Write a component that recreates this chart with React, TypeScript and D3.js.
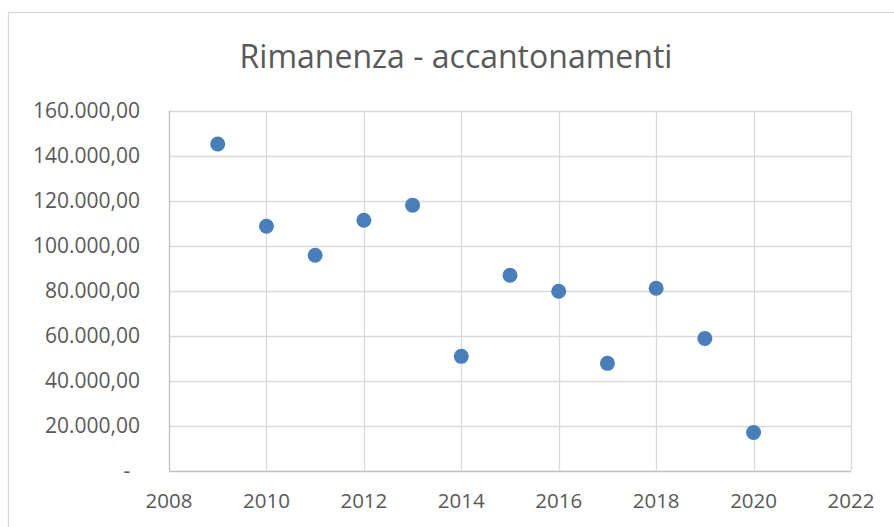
import { useEffect, useRef } from "react";
import * as d3 from "d3";

const WIDTH = 894;
const HEIGHT = 527;

const title = "Rimanenza - accantonamenti";
const years = [2009, 2010, 2011, 2012, 2013, 2014, 2015, 2016, 2017, 2018, 2019, 2020];
const values = [145300, 108700, 95800, 111400, 118100, 50800, 86900, 79800, 47700, 81100, 58800, 16900];
const xTicks = [2008, 2010, 2012, 2014, 2016, 2018, 2020, 2022];
const yTicks = [0, 20000, 40000, 60000, 80000, 100000, 120000, 140000, 160000];

const FONT = "'Open Sans', 'Noto Sans', sans-serif";
const TEXT = "#595959";
const GRID = "#d9d9d9";
const DOT = "#4a7ebb";

// Italian number format: 160.000,00, zero shown as "-"
function fmt(v: number) {
  if (v === 0) return "-";
  const int = Math.round(v)
    .toString()
    .replace(/\B(?=(\d{3})+(?!\d))/g, ".");
  return `${int},00`;
}

export default function App() {
  const ref = useRef<SVGSVGElement | null>(null);

  useEffect(() => {
    if (!ref.current) return;
    const svg = d3.select(ref.current);
    svg.selectAll("*").remove();

    const margin = { left: 169, right: WIDTH - 851, top: 111, bottom: HEIGHT - 470.5 };
    const x = d3.scaleLinear().domain([2008, 2022]).range([margin.left, WIDTH - margin.right]);
    const y = d3.scaleLinear().domain([0, 160000]).range([HEIGHT - margin.bottom, margin.top]);

    svg.append("rect").attr("width", WIDTH).attr("height", HEIGHT).attr("fill", "#fff");

    // chart border (runs off the right/bottom edge)
    svg
      .append("rect")
      .attr("x", 8.5)
      .attr("y", 12.5)
      .attr("width", WIDTH + 20)
      .attr("height", HEIGHT + 20)
      .attr("fill", "none")
      .attr("stroke", GRID)
      .attr("stroke-width", 1.3);

    svg
      .append("text")
      .attr("x", 456)
      .attr("y", 68)
      .attr("text-anchor", "middle")
      .attr("font-family", FONT)
      .attr("font-size", 32)
      .attr("fill", TEXT)
      .text(title);

    const grid = svg.append("g").attr("stroke", GRID).attr("stroke-width", 1.3);
    grid
      .selectAll("line.h")
      .data(yTicks)
      .join("line")
      .attr("x1", x(2008))
      .attr("x2", x(2022))
      .attr("y1", (d) => Math.round(y(d)) + 0.5)
      .attr("y2", (d) => Math.round(y(d)) + 0.5)
      .attr("stroke", (d) => (d === 0 ? "#bfbfbf" : GRID));
    grid
      .selectAll("line.v")
      .data(xTicks)
      .join("line")
      .attr("class", "v")
      .attr("x1", (d) => Math.round(x(d)) + 0.5)
      .attr("x2", (d) => Math.round(x(d)) + 0.5)
      .attr("y1", y(0))
      .attr("y2", y(160000))
      .attr("stroke", (d) => (d === 2008 ? "#bfbfbf" : GRID));

    svg
      .append("g")
      .selectAll("text")
      .data(yTicks)
      .join("text")
      .attr("x", 140)
      .attr("y", (d) => y(d))
      .attr("dy", "0.35em")
      .attr("text-anchor", (d) => (d === 0 ? "middle" : "end"))
      .attr("dx", (d) => (d === 0 ? -13 : 0))
      .attr("font-family", FONT)
      .attr("font-size", 21)
      .attr("fill", TEXT)
      .text((d) => fmt(d));

    svg
      .append("g")
      .selectAll("text")
      .data(xTicks)
      .join("text")
      .attr("x", (d) => x(d))
      .attr("y", 501)
      .attr("dy", "0.35em")
      .attr("text-anchor", "middle")
      .attr("font-family", FONT)
      .attr("font-size", 20.5)
      .attr("fill", TEXT)
      .text((d) => String(d));

    svg
      .append("g")
      .selectAll("circle")
      .data(years.map((yr, i) => ({ yr, v: values[i] })))
      .join("circle")
      .attr("cx", (d) => x(d.yr))
      .attr("cy", (d) => y(d.v))
      .attr("r", 7.5)
      .attr("fill", DOT);
  }, []);

  return (
    <div style={{ position: "absolute", left: 0, top: 0 }}>
      <svg ref={ref} width={WIDTH} height={HEIGHT} style={{ display: "block" }} />
    </div>
  );
}
